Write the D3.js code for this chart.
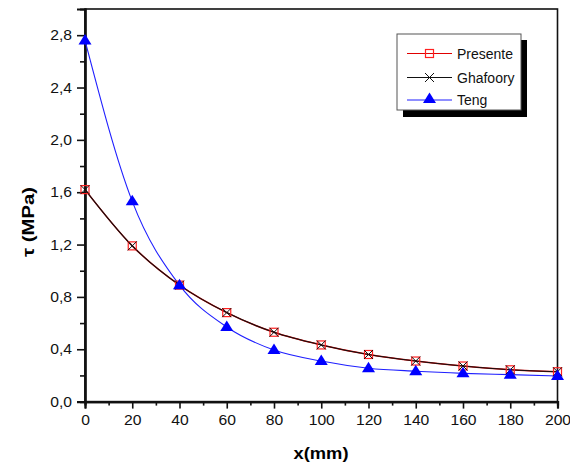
<!DOCTYPE html>
<html>
<head>
<meta charset="utf-8">
<script src="https://cdn.jsdelivr.net/npm/d3@7"></script>
<style>
  html, body { margin: 0; padding: 0; background: #fff; }
  svg { display: block; font-family: "Liberation Sans", Arial, sans-serif; }
</style>
</head>
<body>
<svg id="chart" width="570" height="463"></svg>
<script>
// Shear stress along the joint, three solutions
const xValues = [0, 20, 40, 60, 80, 100, 120, 140, 160, 180, 200];
const presente = [1.62, 1.19, 0.89, 0.68, 0.53, 0.433, 0.36, 0.31, 0.272, 0.243, 0.228];
const ghafoory = [1.62, 1.19, 0.89, 0.68, 0.53, 0.433, 0.36, 0.31, 0.272, 0.243, 0.228];
const teng = [2.76, 1.53, 0.89, 0.57, 0.394, 0.31, 0.255, 0.232, 0.216, 0.206, 0.196];
const xTicks = [0, 20, 40, 60, 80, 100, 120, 140, 160, 180, 200];
const yTicks = [0, 0.4, 0.8, 1.2, 1.6, 2.0, 2.4, 2.8];
const seriesNames = ["Presente", "Ghafoory", "Teng"];

const svg = d3.select("#chart");
const m = { left: 85, right: 557.5, top: 9, bottom: 401.6 };

const x = d3.scaleLinear().domain([0, 200]).range([m.left, m.right]);
const y = d3.scaleLinear().domain([0, 3.0]).range([m.bottom, m.top]);

const fmt = d => d3.format(".1f")(d).replace(".", ",");

// widen a text element horizontally by a factor
function widen(sel, k) {
  sel.each(function () {
    const w = this.getComputedTextLength();
    d3.select(this).attr("textLength", w * k).attr("lengthAdjust", "spacingAndGlyphs");
  });
}

// frame
svg.append("rect")
  .attr("x", m.left).attr("y", m.top)
  .attr("width", m.right - m.left).attr("height", m.bottom - m.top)
  .attr("fill", "none").attr("stroke", "#111").attr("stroke-width", 1.6);

// minor + major ticks
const gx = svg.append("g").attr("transform", `translate(0,${m.bottom})`);
gx.call(d3.axisBottom(x).tickValues(d3.range(10, 200, 20)).tickSize(4).tickFormat(""));
const gxMajor = svg.append("g").attr("transform", `translate(0,${m.bottom})`);
gxMajor.call(d3.axisBottom(x).tickValues(xTicks).tickSize(7).tickPadding(6).tickFormat(d3.format("d")));

const gy = svg.append("g").attr("transform", `translate(${m.left},0)`);
gy.call(d3.axisLeft(y).tickValues(d3.range(0.2, 3.0, 0.4)).tickSize(5).tickFormat(""));
const gyMajor = svg.append("g").attr("transform", `translate(${m.left},0)`);
gyMajor.call(d3.axisLeft(y).tickValues(yTicks).tickSize(8).tickPadding(5).tickFormat(fmt));

svg.selectAll(".domain").attr("stroke", "#111").attr("stroke-width", 2.2);
svg.selectAll(".tick line").attr("stroke", "#111").attr("stroke-width", 1.6);
svg.selectAll(".tick text").attr("font-size", 14).attr("fill", "#111")
  .attr("font-family", "Liberation Sans, Arial, sans-serif");
widen(svg.selectAll(".tick text"), 1.12);

// axis titles
svg.append("text")
  .attr("x", 321).attr("y", 459)
  .attr("text-anchor", "middle").attr("font-size", 17).attr("font-weight", "bold")
  .attr("textLength", 55).attr("lengthAdjust", "spacingAndGlyphs")
  .text("x(mm)");
svg.append("text")
  .attr("transform", "translate(34,222) rotate(-90)")
  .attr("text-anchor", "middle").attr("font-size", 17).attr("font-weight", "bold")
  .attr("textLength", 70).attr("lengthAdjust", "spacingAndGlyphs")
  .text("τ (MPa)");

const line = d3.line().x((d, i) => x(xValues[i])).y(d => y(d)).curve(d3.curveMonotoneX);

const plot = svg.append("g");
plot.append("path").datum(teng).attr("d", line).attr("fill", "none").attr("stroke", "#1f1fff").attr("stroke-width", 1.1);
plot.append("path").datum(presente).attr("d", line).attr("fill", "none").attr("stroke", "#d00000").attr("stroke-width", 1.5);
plot.append("path").datum(ghafoory).attr("d", line).attr("fill", "none").attr("stroke", "#111").attr("stroke-width", 1.1);

function squareMark(g, cx, cy) {
  g.append("rect").attr("x", cx - 4).attr("y", cy - 4).attr("width", 8).attr("height", 8)
    .attr("fill", "none").attr("stroke", "#ff2020").attr("stroke-width", 1.2);
}
function crossMark(g, cx, cy) {
  g.append("path").attr("d", `M${cx-4.5},${cy-4.5}L${cx+4.5},${cy+4.5}M${cx-4.5},${cy+4.5}L${cx+4.5},${cy-4.5}`)
    .attr("stroke", "#111").attr("stroke-width", 1);
}
function triMark(g, cx, cy) {
  g.append("path")
    .attr("d", `M${cx},${cy-6.5}L${cx+6.5},${cy+4}L${cx-6.5},${cy+4}Z`)
    .attr("fill", "#0000ff");
}

presente.forEach((v, i) => squareMark(plot, x(xValues[i]), y(v)));
ghafoory.forEach((v, i) => crossMark(plot, x(xValues[i]), y(v)));
teng.forEach((v, i) => triMark(plot, x(xValues[i]), y(v)));

// legend
const lg = svg.append("g");
lg.append("rect").attr("x", 403).attr("y", 40).attr("width", 124).attr("height", 77).attr("fill", "#000");
lg.append("rect").attr("x", 397).attr("y", 34).attr("width", 124).attr("height", 76)
  .attr("fill", "#fff").attr("stroke", "#555").attr("stroke-width", 1);
const rows = [53.5, 77.5, 100];
const colors = ["#e00000", "#111", "#1f1fff"];
seriesNames.forEach((name, i) => {
  const ry = rows[i];
  lg.append("line").attr("x1", 407).attr("x2", 452).attr("y1", ry).attr("y2", ry)
    .attr("stroke", colors[i]).attr("stroke-width", 1);
  if (i === 0) squareMark(lg, 429.5, ry);
  if (i === 1) crossMark(lg, 429.5, ry);
  if (i === 2) triMark(lg, 429.5, ry - 1);
  lg.append("text").attr("x", 457).attr("y", ry + 5).attr("font-size", 14).attr("fill", "#111").text(name);
});
</script>
</body>
</html>
